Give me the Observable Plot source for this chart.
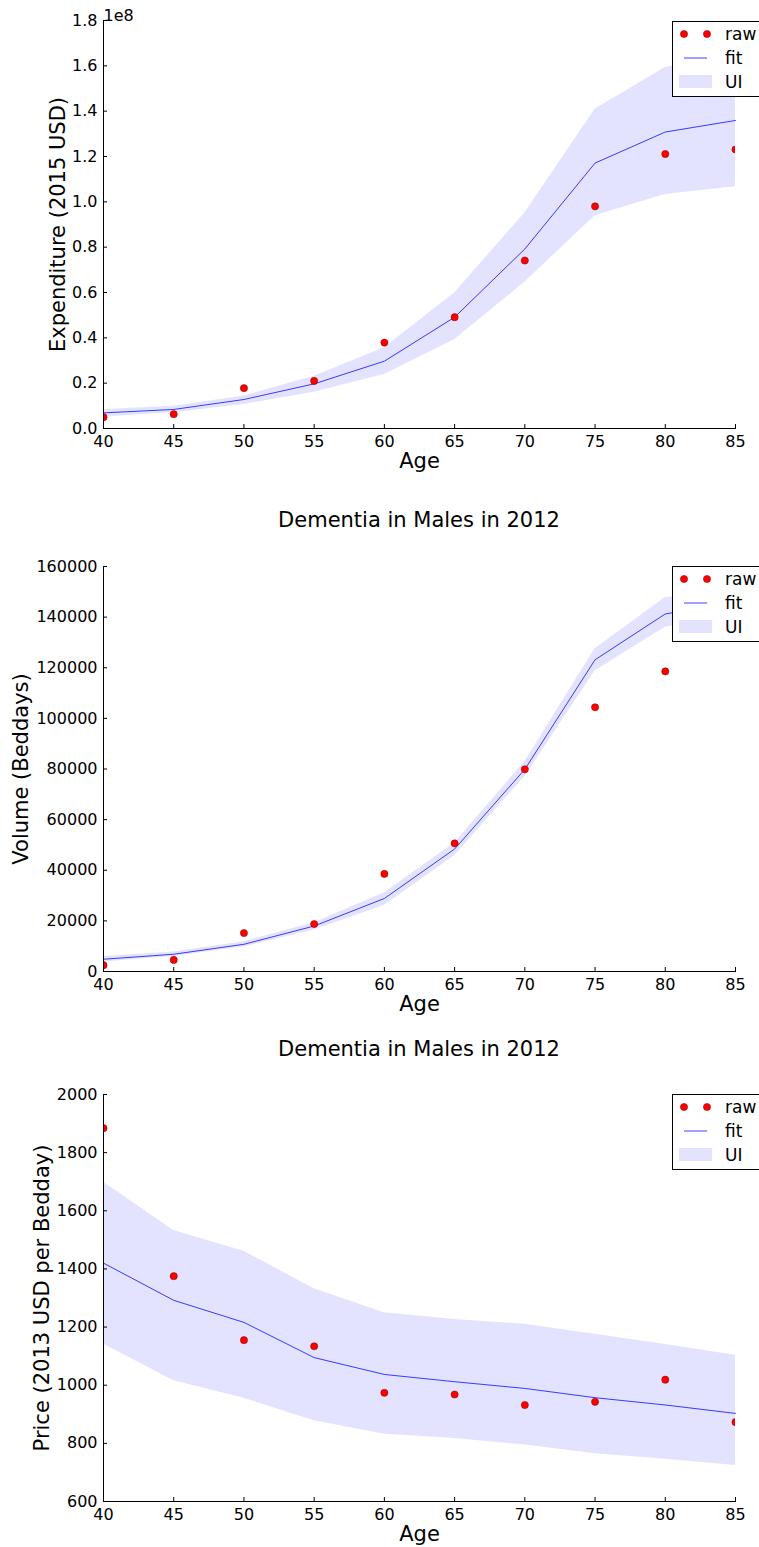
<!DOCTYPE html>
<html><head><meta charset="utf-8">
<script src="https://cdn.jsdelivr.net/npm/d3@7"></script>
<script src="https://cdn.jsdelivr.net/npm/@observablehq/plot@0.6"></script>
<style>
html,body{margin:0;padding:0;background:#fff;}
#wrap{position:relative;width:759px;height:1547px;overflow:hidden;font-family:"DejaVu Sans",sans-serif;}
.panel{position:absolute;left:0;}
.title{position:absolute;left:0;width:838px;text-align:center;font-size:21px;color:#000;}
.legend{position:absolute;left:672px;width:100px;height:76px;background:#fff;border:1px solid #000;box-sizing:border-box;}
.legend svg{position:absolute;left:0;top:0;}
</style></head>
<body><div id="wrap"></div>
<script>
const ages = [40, 45, 50, 55, 60, 65, 70, 75, 80, 85];
const xTicks = [40, 45, 50, 55, 60, 65, 70, 75, 80, 85];

// Panel 1: Expenditure (2015 USD), values in USD
const expRaw = [0.05, 0.063, 0.178, 0.21, 0.379, 0.491, 0.741, 0.980, 1.211, 1.231].map(v => v * 1e8);
const expFit = [0.069, 0.084, 0.128, 0.197, 0.297, 0.491, 0.792, 1.171, 1.308, 1.359].map(v => v * 1e8);
const expLo  = [0.051, 0.069, 0.106, 0.16, 0.238, 0.392, 0.645, 0.939, 1.032, 1.067].map(v => v * 1e8);
const expHi  = [0.084, 0.098, 0.143, 0.23, 0.356, 0.598, 0.951, 1.409, 1.593, 1.65].map(v => v * 1e8);
const expTicks = [0, 0.2, 0.4, 0.6, 0.8, 1.0, 1.2, 1.4, 1.6, 1.8].map(v => v * 1e8);

// Panel 2: Volume (Beddays)
const volRaw = [2490, 4590, 15210, 18750, 38560, 50620, 79870, 104390, 118560, 135000];
const volFit = [4850, 6820, 10750, 17970, 28850, 48390, 79870, 123150, 141250, 146000];
const volLo  = [3800, 5900, 9700, 16390, 26100, 45770, 76980, 118690, 136000, 141000];
const volHi  = [5900, 7700, 11800, 19280, 31080, 50750, 82890, 127480, 147800, 150500];
const volTicks = [0, 20000, 40000, 60000, 80000, 100000, 120000, 140000, 160000];

// Panel 3: Price (2013 USD per Bedday)
const priceRaw = [1884, 1375, 1155, 1134, 974, 968, 932, 943, 1019, 873];
const priceFit = [1420, 1292, 1216, 1095, 1037, 1012, 989, 957, 932, 903];
const priceLo  = [1141, 1015, 955, 878, 831, 817, 794, 764, 745, 724];
const priceHi  = [1698, 1532, 1461, 1332, 1249, 1226, 1210, 1175, 1140, 1103];
const priceTicks = [600, 800, 1000, 1200, 1400, 1600, 1800, 2000];

const titleText = "Dementia in Males in 2012";

const W = 759, ML = 103, MR = 24;

function panel({top, height, mt, mb, yDomain, yTicks, yFmt, raw, fit, lo, hi, ylabel, ylabelDx, xlabelDy, offsetText}) {
  const rows = ages.map((a, i) => ({age: a, raw: raw[i], fit: fit[i], lo: lo[i], hi: hi[i]}));
  const plotH = height - mt - mb;
  const plotW = W - ML - MR;
  const marks = [
    Plot.areaY(rows, {x: "age", y1: "lo", y2: "hi", fill: "#0000ff", fillOpacity: 0.11}),
    Plot.line(rows, {x: "age", y: "fit", stroke: "#0000ff", strokeOpacity: 0.75, strokeWidth: 1}),
    Plot.dot(rows, {x: "age", y: "raw", r: 3.6, fill: "#ff0000", stroke: "#800000", strokeWidth: 0.5, clip: true}),
    Plot.tickY(yTicks, {y: d => d, insetRight: plotW - 4, stroke: "#000"}),
    Plot.tickX(xTicks, {x: d => d, insetTop: plotH - 4, stroke: "#000"}),
    Plot.frame({anchor: "left", stroke: "#000"}),
    Plot.frame({anchor: "bottom", stroke: "#000"}),
    Plot.axisY({ticks: yTicks, tickFormat: yFmt, tickSize: 0, tickPadding: 6, label: null, fontSize: 16, fill: "#000"}),
    Plot.axisX({ticks: xTicks, tickFormat: d => String(d), tickSize: 0, tickPadding: 7, label: null, fontSize: 16, fill: "#000"}),
    Plot.text([ylabel], {frameAnchor: "left", dx: ylabelDx, rotate: -90, textAnchor: "middle", lineAnchor: "middle", fontSize: 21, fill: "#000", text: d => d}),
    Plot.text(["Age"], {frameAnchor: "bottom", dy: xlabelDy, textAnchor: "middle", lineAnchor: "middle", fontSize: 21, fill: "#000", text: d => d})
  ];
  if (offsetText) marks.push(Plot.text([offsetText], {frameAnchor: "top-left", dx: 0, dy: -11, textAnchor: "start", fontSize: 16, fill: "#000", text: d => d}));
  const svg = Plot.plot({
    width: W, height,
    marginLeft: ML, marginRight: MR, marginTop: mt, marginBottom: mb,
    style: {fontFamily: "DejaVu Sans, sans-serif", overflow: "visible", background: "transparent"},
    x: {domain: [40, 85]},
    y: {domain: yDomain},
    marks
  });
  const div = document.createElement("div");
  div.className = "panel";
  div.style.top = top + "px";
  div.appendChild(svg);
  return div;
}

function legend(top) {
  const d = document.createElement("div");
  d.className = "legend";
  d.style.top = top + "px";
  d.innerHTML = `<svg width="100" height="76" xmlns="http://www.w3.org/2000/svg" font-family="DejaVu Sans, sans-serif" font-size="17">
    <circle cx="11" cy="12" r="3.6" fill="#ff0000" stroke="#800000" stroke-width="0.5"/>
    <circle cx="34" cy="12" r="3.6" fill="#ff0000" stroke="#800000" stroke-width="0.5"/>
    <text x="52" y="18" fill="#000">raw</text>
    <line x1="11" x2="34" y1="36" y2="36" stroke="#0000ff" stroke-opacity="0.75"/>
    <text x="52" y="42" fill="#000">fit</text>
    <rect x="6" y="53" width="33" height="13" fill="#0000ff" fill-opacity="0.11"/>
    <text x="52" y="66" fill="#000">UI</text>
  </svg>`;
  return d;
}

function title(top) {
  const t = document.createElement("div");
  t.className = "title";
  t.style.top = top + "px";
  t.textContent = titleText;
  return t;
}

const wrap = document.getElementById("wrap");

wrap.appendChild(panel({top: 0, height: 480, mt: 20, mb: 52, yDomain: [0, 1.8e8], yTicks: expTicks,
  yFmt: d => (d / 1e8).toFixed(1), raw: expRaw, fit: expFit, lo: expLo, hi: expHi,
  ylabel: "Expenditure (2015 USD)", ylabelDx: -45, xlabelDy: 33, offsetText: "1e8"}));
wrap.appendChild(legend(21));

wrap.appendChild(title(508));
wrap.appendChild(panel({top: 546, height: 480, mt: 20, mb: 55, yDomain: [0, 160000], yTicks: volTicks,
  yFmt: d => String(d), raw: volRaw, fit: volFit, lo: volLo, hi: volHi,
  ylabel: "Volume (Beddays)", ylabelDx: -82, xlabelDy: 33}));
wrap.appendChild(legend(566));

wrap.appendChild(title(1037));
wrap.appendChild(panel({top: 1074, height: 473, mt: 20, mb: 46, yDomain: [600, 2000], yTicks: priceTicks,
  yFmt: d => String(d), raw: priceRaw, fit: priceFit, lo: priceLo, hi: priceHi,
  ylabel: "Price (2013 USD per Bedday)", ylabelDx: -61, xlabelDy: 33}));
wrap.appendChild(legend(1094));
</script>
</body></html>
